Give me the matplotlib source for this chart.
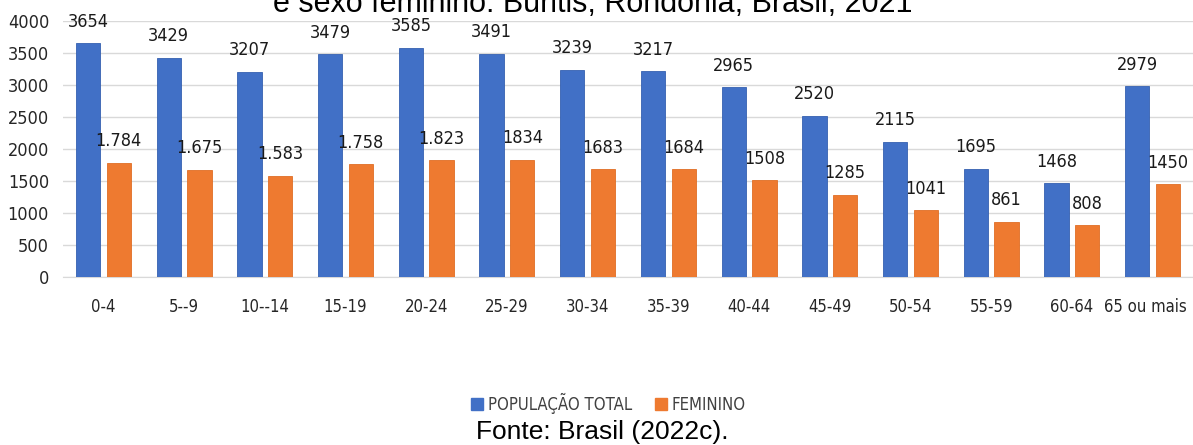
"""
Populacao total e feminina por faixa etaria - Buritis, RO
"""

import numpy as np
import matplotlib
matplotlib.use('Agg')
import matplotlib.pyplot as plt
import matplotlib.transforms as mtransforms
from matplotlib.patches import Patch
from matplotlib import font_manager

# data
faixas = ['0-4', '5--9', '10--14', '15-19', '20-24', '25-29', '30-34',
          '35-39', '40-44', '45-49', '50-54', '55-59', '60-64', '65 ou mais']
total = [3654, 3429, 3207, 3479, 3585, 3491, 3239,
         3217, 2965, 2520, 2115, 1695, 1468, 2979]
feminino = [1784, 1675, 1583, 1758, 1823, 1834, 1683,
            1684, 1508, 1285, 1041, 861, 808, 1450]
rotulos_fem = ['1.784', '1.675', '1.583', '1.758', '1.823', '1834', '1683',
               '1684', '1508', '1285', '1041', '861', '808', '1450']
yticks = [0, 500, 1000, 1500, 2000, 2500, 3000, 3500, 4000]

narrow = font_manager.FontProperties(family='DejaVu Sans', stretch='condensed', size=13)
xlab_prop = font_manager.FontProperties(family='DejaVu Sans', stretch='condensed', size=12)
arial = ['Liberation Sans', 'DejaVu Sans']
azul = '#4170C6'
laranja = '#EE7A30'

fig = plt.figure(figsize=(11.93, 4.45), dpi=100)
ax = fig.add_axes([0.0528, 0.3775, 0.9472, 0.5753])

x = np.arange(len(faixas))
w = 0.30
off = 0.19
ax.bar(x - off, total, w, color=azul, edgecolor='#3560B0', linewidth=0.6, zorder=3)
ax.bar(x + off, feminino, w, color=laranja, edgecolor='#E06E25', linewidth=0.6, zorder=3)

# value labels above each bar
for xi, v in zip(x, total):
    ax.annotate(str(v), (xi - off, v), xytext=(0, 9), textcoords='offset points',
                ha='center', va='bottom', fontproperties=narrow, color='#1a1a1a',
                annotation_clip=False)
for xi, v, lab in zip(x, feminino, rotulos_fem):
    ax.annotate(lab, (xi + off, v), xytext=(0, 9), textcoords='offset points',
                ha='center', va='bottom', fontproperties=narrow, color='#1a1a1a',
                annotation_clip=False)

ax.set_xlim(-0.5, len(faixas) - 0.5)
ax.set_ylim(0, 4000)
ax.set_yticks(yticks)
ax.set_xticks(x)
ax.set_xticklabels(faixas)
ax.yaxis.grid(True, color='#D9D9D9', linewidth=1.0, zorder=0)
ax.set_axisbelow(True)
for s in ['top', 'right', 'left']:
    ax.spines[s].set_visible(False)
ax.spines['bottom'].set_color('#D9D9D9')
ax.tick_params(axis='both', length=0)
ax.tick_params(axis='x', pad=15)
ax.tick_params(axis='y', pad=10)
for t in ax.get_yticklabels():
    t.set_fontproperties(narrow)
    t.set_color('#262626')
for t in ax.get_xticklabels():
    t.set_fontproperties(xlab_prop)
    t.set_color('#262626')

# last label sits against the right edge, nudge it in a bit
last = ax.get_xticklabels()[-1]
last.set_transform(last.get_transform() +
                   mtransforms.ScaledTranslation(-5 / 72, 0, fig.dpi_scale_trans))

handles = [Patch(color=azul), Patch(color=laranja)]
leg_prop = font_manager.FontProperties(family='DejaVu Sans', stretch='condensed', size=12)
leg = fig.legend(handles, ['POPULAÇÃO TOTAL', 'FEMININO'], loc='center',
                 bbox_to_anchor=(0.51, 1 - 403 / 445), ncol=2, frameon=False,
                 handlelength=0.7, handleheight=0.7, handletextpad=0.3,
                 columnspacing=1.4, prop=leg_prop)
for t in leg.get_texts():
    t.set_color('#404040')

# title cut at the top edge, as in the source
fig.text(593 / 1193, 1 - 12 / 445, 'e sexo feminino: Buritis, Rondônia, Brasil, 2021',
         ha='center', va='baseline', fontsize=22, family=arial, color='black')
fig.text(0.505, 1 - 439 / 445, 'Fonte: Brasil (2022c).',
         ha='center', va='baseline', fontsize=19, family=arial, color='black')

fig.savefig('out.png', dpi=100)
